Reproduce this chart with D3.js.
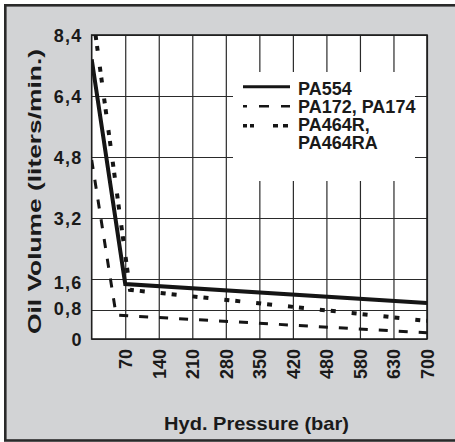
<!DOCTYPE html>
<html>
<head>
<meta charset="utf-8">
<script src="https://cdn.jsdelivr.net/npm/d3@7"></script>
<style>
  body { margin: 0; background: #fff; }
  svg { display: block; }
  text { font-family: "Liberation Sans", Arial, sans-serif; font-weight: bold; fill: #1a1a1a; }
</style>
</head>
<body>
<div id="chart-area"></div>
<script>
// values
var pressureTicks = [70, 140, 210, 280, 350, 420, 490, 560, 630, 700]
var pressureLabels = ["70", "140", "210", "280", "350", "420", "480", "580", "630", "700"]
var volumeTicks = [0, 0.8, 1.6, 3.2, 4.8, 6.4, 8.4]
var volumeLabels = ["0", "0,8", "1,6", "3,2", "4,8", "6,4", "8,4"]

// [pressure, oil volume]
var pa554 = [[0, 7.6], [70, 1.47], [700, 0.98]]
var pa172 = [[0, 4.72], [51, 0.66], [700, 0.17]]
var pa464r = [[8, 8.4], [80, 1.32], [700, 0.5]]

var seriesNames = ["PA554", "PA172, PA174", "PA464R,|PA464RA"]

var width = 455, height = 442
// note: "top" is taken by window.top, so prefix these
var plotLeft = 91.7, plotRight = 427, plotTop = 35, plotBottom = 339
var plotW = plotRight - plotLeft, plotH = plotBottom - plotTop

var svg = d3.select("#chart-area").append("svg")
    .attr("width", width)
    .attr("height", height)

// gray frame
svg.append("rect")
    .attr("x", 5.3).attr("y", 5.3)
    .attr("width", 470).attr("height", 435.2)
    .attr("fill", "#d2d3d5")
    .attr("stroke", "#2a2a2a")
    .attr("stroke-width", 2.6)

var x = d3.scaleLinear().domain([0, 700]).range([plotLeft, plotRight])
// the y axis is not uniform: 0.8 steps at the bottom, 1.6 steps above, and 6,4 -> 8,4 squeezed
var y = d3.scaleLinear()
    .domain([0, 0.8, 1.6, 3.2, 4.8, 6.4, 8.4])
    .range([plotBottom, plotBottom - 29, plotBottom - 60, plotBottom - 121, plotBottom - 182, plotBottom - 243, plotTop])

svg.append("rect")
    .attr("x", plotLeft).attr("y", plotTop)
    .attr("width", plotW).attr("height", plotH)
    .attr("fill", "#fff")

var yAxis = svg.append("g")
    .attr("transform", "translate(" + plotLeft + ",0)")
    .call(d3.axisLeft(y)
        .tickValues(volumeTicks)
        .tickFormat(function(d, i) { return volumeLabels[i] })
        .tickSize(-plotW)
        .tickPadding(9))
yAxis.select(".domain").remove()
yAxis.selectAll("line").attr("stroke", "#2a2a2a").attr("stroke-width", 1.2)
yAxis.selectAll("text")
    .style("font-size", "18px")
    .style("letter-spacing", "1.3px")
    .attr("fill", "#1a1a1a")
    .attr("dy", function(d) { return d == 1.6 ? "0.55em" : d == 0.8 ? "0.25em" : "0.35em" })

var xAxis = svg.append("g")
    .attr("transform", "translate(0," + plotBottom + ")")
    .call(d3.axisBottom(x)
        .tickValues(pressureTicks)
        .tickFormat(function(d, i) { return pressureLabels[i] })
        .tickSize(-plotH))
xAxis.select(".domain").remove()
xAxis.selectAll("line").attr("stroke", "#2a2a2a").attr("stroke-width", 1.2)
xAxis.selectAll("text")
    .style("font-size", "18px")
    .attr("fill", "#1a1a1a")
    .attr("transform", "rotate(-90)")
    .attr("x", -10)
    .attr("y", 0)
    .attr("dy", "0.36em")
    .style("text-anchor", "end")

// legend background hides the grid
svg.append("rect")
    .attr("x", 233).attr("y", 72)
    .attr("width", 182).attr("height", 109)
    .attr("fill", "#fff")

svg.append("rect")
    .attr("x", plotLeft).attr("y", plotTop)
    .attr("width", plotW).attr("height", plotH)
    .attr("fill", "none")
    .attr("stroke", "#1f1f1f")
    .attr("stroke-width", 1.6)

svg.append("clipPath").attr("id", "plot-clip")
    .append("rect")
    .attr("x", plotLeft).attr("y", plotTop)
    .attr("width", plotW).attr("height", plotH)

var line = d3.line()
    .x(function(d) { return x(d[0]) })
    .y(function(d) { return y(d[1]) })

var styles = [
    { data: pa554, width: 4, dash: null, legendDash: null, offset: 0 },
    { data: pa172, width: 3, dash: "9,11", legendDash: "10,12", offset: 6 },
    { data: pa464r, width: 4, dash: "5,6,5,16", legendDash: "4,3,4,19,5,5,5", offset: 0 }
]

var lines = svg.append("g").attr("clip-path", "url(#plot-clip)")
styles.forEach(function(s) {
    lines.append("path")
        .attr("d", line(s.data))
        .attr("fill", "none")
        .attr("stroke", "#151515")
        .attr("stroke-width", s.width)
        .attr("stroke-dasharray", s.dash)
        .attr("stroke-linejoin", "miter")
})

// legend
var legend = svg.append("g")
styles.forEach(function(s, i) {
    var ly = 86.7 + i * 19.5
    legend.append("line")
        .attr("x1", 243).attr("x2", 290)
        .attr("y1", ly).attr("y2", ly)
        .attr("stroke", "#151515")
        .attr("stroke-width", i == 0 ? 3 : s.width - 0.5)
        .attr("stroke-dasharray", s.legendDash)
        .attr("stroke-dashoffset", s.offset)
    var parts = seriesNames[i].split("|")
    parts.forEach(function(p, j) {
        legend.append("text")
            .attr("x", 298)
            .attr("y", 94.5 + i * 18 + j * 18)
            .style("font-size", "18px")
            .text(p)
    })
})

// axis titles
svg.append("text")
    .attr("transform", "translate(40.5,191.5) rotate(-90)")
    .attr("text-anchor", "middle")
    .attr("textLength", 285)
    .attr("lengthAdjust", "spacingAndGlyphs")
    .style("font-size", "18.5px")
    .text("Oil Volume (liters/min.)")

svg.append("text")
    .attr("x", 256.5)
    .attr("y", 430)
    .attr("text-anchor", "middle")
    .attr("textLength", 185)
    .attr("lengthAdjust", "spacingAndGlyphs")
    .style("font-size", "18.5px")
    .text("Hyd. Pressure (bar)")
</script>
</body>
</html>
